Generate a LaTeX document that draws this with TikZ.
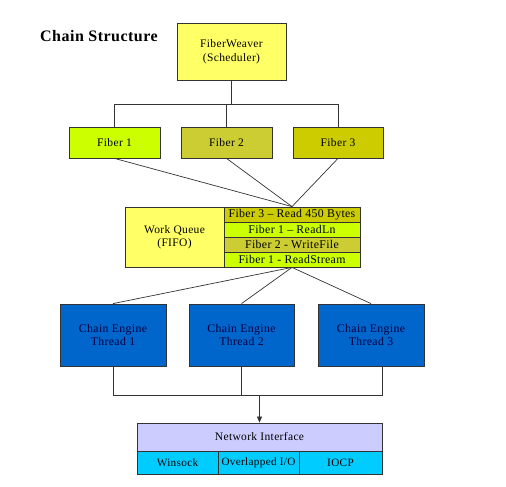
\documentclass[tikz,border=0pt]{standalone}
\usepackage{fontspec}
\setmainfont{Liberation Serif}[LetterSpace=3]
\usetikzlibrary{arrows.meta}
\definecolor{fwy}{HTML}{FFFF66}
\definecolor{fone}{HTML}{CCFF00}
\definecolor{ftwo}{HTML}{CCCC33}
\definecolor{fthree}{HTML}{CCCC00}
\definecolor{thr}{HTML}{0066CC}
\definecolor{thrtxt}{HTML}{000040}
\definecolor{netc}{HTML}{CCCCFF}
\definecolor{cellc}{HTML}{00CCFF}
\definecolor{ln}{HTML}{333333}
\tikzset{
  box/.style={draw=ln, line width=0.8pt, rectangle, inner sep=0pt, align=center, font=\fontsize{11.5}{13.5}\selectfont},
  row/.style={box, minimum width=136pt, minimum height=15pt, font=\fontsize{11.8}{13}\selectfont},
  thread/.style={box, fill=thr, text=thrtxt, minimum width=106pt, minimum height=62pt, font=\fontsize{11.8}{13.5}\selectfont},
  cell/.style={box, fill=cellc, minimum height=23pt, font=\fontsize{11.2}{13}\selectfont},
  conn/.style={draw=ln, line width=0.7pt},
}
\begin{document}
\begin{tikzpicture}[x=1pt, y=-1pt]
\useasboundingbox (0,0) rectangle (506,487);
\node[anchor=base west, inner sep=0pt, font=\fontsize{16}{18}\selectfont\bfseries] (title) at (40,42) {Chain Structure};
\node[box, fill=fwy, minimum width=109pt, minimum height=57pt] (fw) at (231.5,51.5) {FiberWeaver\\(Scheduler)};
\node[box, fill=fone, minimum width=91pt, minimum height=31pt] (f1) at (114.5,142.5) {Fiber 1};
\node[box, fill=ftwo, minimum width=91pt, minimum height=31pt] (f2) at (226.5,142.5) {Fiber 2};
\node[box, fill=fthree, minimum width=90pt, minimum height=31pt] (f3) at (338,142.5) {Fiber 3};
\node[box, fill=fwy, minimum width=99pt, minimum height=60pt] (wq) at (174.5,237) {Work Queue\\(FIFO)};
\node[row, fill=fthree] (r1) at (292,214.5) {Fiber 3 – Read 450 Bytes};
\node[row, fill=fone] (r2) at (292,229.5) {Fiber 1 – ReadLn};
\node[row, fill=ftwo] (r3) at (292,244.5) {Fiber 2 - WriteFile};
\node[row, fill=fone] (r4) at (292,259.5) {Fiber 1 - ReadStream};
\node[thread] (t1) at (113,335) {Chain Engine\\Thread 1};
\node[thread, minimum width=105pt] (t2) at (241.5,335) {Chain Engine\\Thread 2};
\node[thread] (t3) at (371,335) {Chain Engine\\Thread 3};
\node[box, fill=netc, minimum width=245pt, minimum height=28pt] (ni) at (259.5,437) {Network Interface};
\node[cell, minimum width=81pt] (c1) at (177.5,462.5) {Winsock};
\node[cell, minimum width=81pt] (c2) at (258.5,462.5) {Overlapped I/O};
\node[cell, minimum width=83pt] (c3) at (340.5,462.5) {IOCP};
\coordinate (bar) at (0,104);
\coordinate (bar2) at (0,395);
\coordinate (t3o) at (382,366);
\draw[conn] (fw.south) -- (fw.south |- bar);
\draw[conn] (f1.north) -- (f1.north |- bar) -- (f3.north |- bar) -- (f3.north);
\draw[conn] (f2.north) -- (f2.north |- bar);
\draw[conn] (f1.south) -- (r1.north);
\draw[conn] (f2.south) -- (r1.north);
\draw[conn] (f3.south) -- (r1.north);
\draw[conn] (r4.south) -- (t1.north);
\draw[conn] (r4.south) -- (t2.north);
\draw[conn] (r4.south) -- (t3.north);
\draw[conn] (t1.south) -- (t1.south |- bar2) -- (t3o |- bar2) -- (t3o);
\draw[conn] (t2.south) -- (t2.south |- bar2);
\draw[conn, -{Triangle[length=6pt,width=5pt]}] (ni.north |- bar2) -- (ni.north);
\end{tikzpicture}
\end{document}
